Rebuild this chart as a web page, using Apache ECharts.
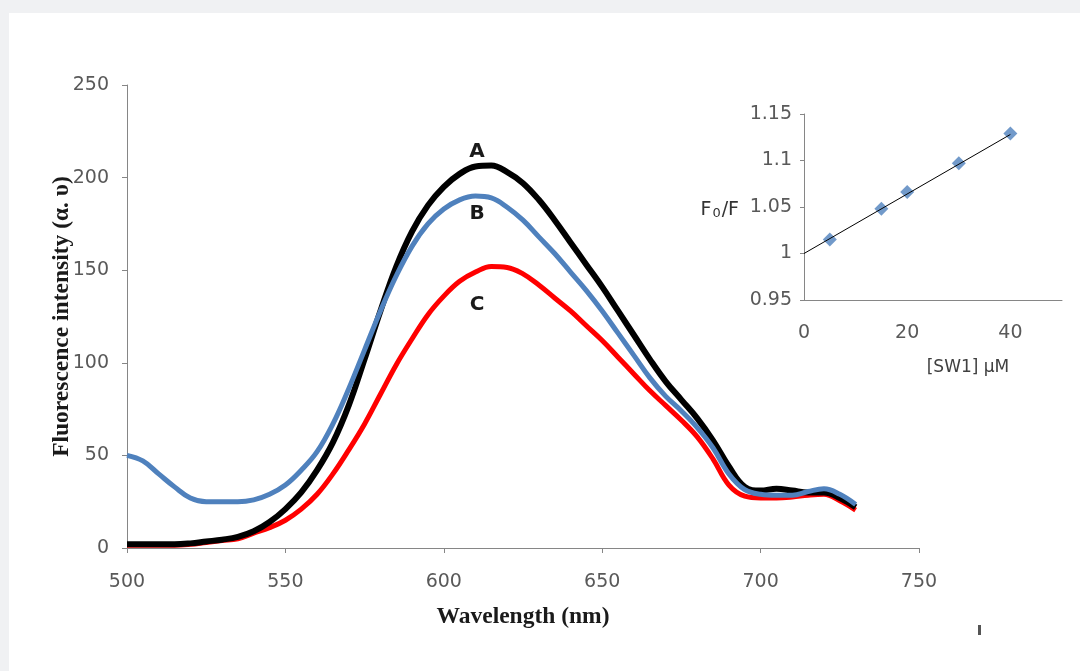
<!DOCTYPE html>
<html>
<head>
    <meta charset="utf-8">
    <title>Fluorescence quenching</title>
    <script src="https://cdn.jsdelivr.net/npm/echarts@6/dist/echarts.min.js"></script>
</head>
<body style="margin:0; background:#f0f1f3;">
    <div id="main" style="width:1080px; height:671px;"></div>
    <script>
        // emission spectra, every 5 nm
        var wavelength = [500, 505, 510, 515, 520, 525, 530, 535, 540, 545,
            550, 555, 560, 565, 570, 575, 580, 585, 590, 595,
            600, 605, 610, 615, 620, 625, 630, 635, 640, 645,
            650, 655, 660, 665, 670, 675, 680, 685, 690, 695,
            700, 705, 710, 715, 720, 725, 730]
        var curveA = [2, 2, 2, 2, 2.5, 3.5, 4.5, 6, 9, 14,
            21, 30, 42, 57, 77, 102, 128, 152, 171, 185,
            195, 202, 206, 206.5, 203, 197, 188, 177, 165, 153,
            141, 128, 115, 102, 90, 80, 70, 58, 44, 33,
            31, 32, 31, 30, 30, 27, 22]
        var curveB = [50, 47, 40, 33, 27, 25, 25, 25, 26, 29,
            34, 42, 52, 67, 86, 107, 128, 147, 163, 175,
            183, 188, 190, 189, 184, 177, 168, 159, 149, 139,
            128, 116, 104, 92, 82, 74, 65, 54, 40, 31.5,
            29, 28.5, 28.5, 30.5, 32, 29, 23.5]
        var curveC = [1.5, 1.5, 1.5, 1.5, 2, 3, 4, 5, 8, 11,
            15, 21, 29, 40, 53, 67, 83, 99, 113, 126,
            136, 144, 149, 152, 151.5, 148, 142, 135, 128, 120,
            112, 103, 94, 85, 77, 69, 60, 48, 34, 28,
            27, 27, 27.5, 28.5, 29, 25.5, 20.5]

        // inset: Stern-Volmer plot
        var conc = [5, 15, 20, 30, 40]
        var ratio = [1.015, 1.048, 1.066, 1.097, 1.129]
        var fitX = [0, 40]
        var fitY = [1.0, 1.128]

        var pairs = function(xs, ys) {
            var out = []
            for (var i = 0; i < xs.length; i++) {
                out.push([xs[i], ys[i]])
            }
            return out
        }

        var tickFont = 'DejaVu Sans'
        var tickColor = '#595959'
        var axisColor = '#868686'

        var myChart = echarts.init(document.querySelector('#main'))

        var option = {
            backgroundColor: '#f0f1f3',
            animation: false,
            graphic: [
                {type: 'rect', z: -10, shape: {x: 9, y: 13, width: 1080, height: 671}, style: {fill: '#ffffff'}},
                {type: 'rect', shape: {x: 978, y: 625, width: 3, height: 10}, style: {fill: '#555555'}}
            ],
            grid: [
                {left: 127, right: 161, top: 85, bottom: 123},
                {left: 804, right: 18, top: 114, bottom: 371}
            ],
            xAxis: [
                {
                    gridIndex: 0, type: 'value', min: 500, max: 750, interval: 50,
                    name: 'Wavelength (nm)', nameLocation: 'middle', nameGap: 57,
                    nameTextStyle: {fontFamily: 'Liberation Serif', fontWeight: 'bold', fontSize: 23.5, color: '#1a1a1a'},
                    splitLine: {show: false},
                    axisLine: {lineStyle: {color: axisColor}},
                    axisTick: {length: 5, lineStyle: {color: axisColor}},
                    axisLabel: {margin: 25, fontFamily: tickFont, fontSize: 19, color: tickColor}
                },
                {
                    gridIndex: 1, type: 'value', min: 0, max: 50, interval: 20,
                    name: '[SW1] μM', nameLocation: 'middle', nameGap: 59,
                    nameTextStyle: {fontFamily: tickFont, fontSize: 17, color: '#404040', padding: [0, 0, 0, 70]},
                    splitLine: {show: false},
                    axisLine: {onZero: false, lineStyle: {color: axisColor}},
                    axisTick: {show: false},
                    axisLabel: {margin: 24, showMaxLabel: false, fontFamily: tickFont, fontSize: 19, color: tickColor}
                }
            ],
            yAxis: [
                {
                    gridIndex: 0, type: 'value', min: 0, max: 250, interval: 50,
                    name: 'Fluorescence intensity (α. υ)', nameLocation: 'middle', nameGap: 53,
                    nameMoveOverlap: false,
                    nameTextStyle: {fontFamily: 'Liberation Serif', fontWeight: 'bold', fontSize: 23.5, color: '#1a1a1a'},
                    splitLine: {show: false},
                    axisLine: {show: true, lineStyle: {color: axisColor}},
                    axisTick: {show: true, length: 5, lineStyle: {color: axisColor}},
                    axisLabel: {margin: 18, fontFamily: tickFont, fontSize: 19, color: tickColor}
                },
                {
                    gridIndex: 1, type: 'value', min: 0.95, max: 1.15, interval: 0.05,
                    name: '{a|F}{s|0}{a|/F}', nameLocation: 'middle', nameGap: 65, nameRotate: 0,
                    nameMoveOverlap: false,
                    nameTextStyle: {
                        padding: [6, 0, 0, 0],
                        rich: {
                            a: {fontFamily: tickFont, fontSize: 19, color: '#333333'},
                            s: {fontFamily: tickFont, fontSize: 13, color: '#333333', padding: [8, 1, 0, 1]}
                        }
                    },
                    splitLine: {show: false},
                    axisLine: {show: true, lineStyle: {color: axisColor}},
                    axisTick: {show: true, length: 4, lineStyle: {color: axisColor}},
                    axisLabel: {margin: 12, fontFamily: tickFont, fontSize: 19, color: tickColor}
                }
            ],
            series: [
                {
                    name: 'C', type: 'line', xAxisIndex: 0, yAxisIndex: 0,
                    data: pairs(wavelength, curveC), showSymbol: false, smooth: 0.4,
                    lineStyle: {color: '#ff0000', width: 5}
                },
                {
                    name: 'A', type: 'line', xAxisIndex: 0, yAxisIndex: 0,
                    data: pairs(wavelength, curveA), showSymbol: false, smooth: 0.4,
                    lineStyle: {color: '#000000', width: 6}
                },
                {
                    name: 'B', type: 'line', xAxisIndex: 0, yAxisIndex: 0,
                    data: pairs(wavelength, curveB), showSymbol: false, smooth: 0.4,
                    lineStyle: {color: '#4f81bd', width: 5},
                    markPoint: {
                        symbol: 'circle', symbolSize: 0,
                        label: {show: true, position: 'inside', fontFamily: tickFont, fontWeight: 'bold', fontSize: 20, color: '#1a1a1a'},
                        data: [
                            {coord: [610.5, 214], value: 'A'},
                            {coord: [610.5, 180.7], value: 'B'},
                            {coord: [610.5, 131.2], value: 'C'}
                        ]
                    }
                },
                {
                    name: 'fit', type: 'line', xAxisIndex: 1, yAxisIndex: 1,
                    data: pairs(fitX, fitY), showSymbol: false,
                    lineStyle: {color: '#000000', width: 1}
                },
                {
                    name: 'F0/F', type: 'scatter', xAxisIndex: 1, yAxisIndex: 1,
                    data: pairs(conc, ratio), symbol: 'diamond', symbolSize: 14,
                    itemStyle: {color: '#4f81bd'}
                }
            ]
        }

        myChart.setOption(option)
    </script>
</body>
</html>
